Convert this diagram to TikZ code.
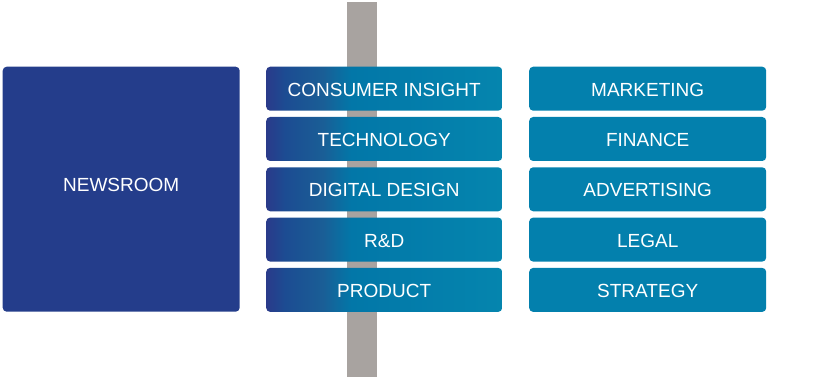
\documentclass[tikz,border=0pt]{standalone}
\usepackage{fontspec}
\setmainfont{Liberation Sans}
\definecolor{navy}{RGB}{36,61,139}
\definecolor{teal}{RGB}{3,128,173}
\definecolor{pole}{RGB}{168,163,160}
\definecolor{gA}{RGB}{42,58,138}
\definecolor{gB}{RGB}{28,76,146}
\definecolor{gC}{RGB}{26,94,150}
\definecolor{gD}{RGB}{2,119,168}
\definecolor{gE}{RGB}{5,133,174}
\pgfdeclarehorizontalshading{midshade}{100bp}{color(0bp)=(gA); color(25bp)=(gA); color(29bp)=(gB); color(37bp)=(gC); color(43bp)=(gD); color(75bp)=(gE); color(100bp)=(gE)}
\tikzset{
  box/.style={rounded corners=4pt, minimum height=44pt, inner sep=0pt, text=white, font=\fontsize{19}{22}\selectfont, anchor=north west, text height=15.3pt, text depth=0pt},
  midbox/.style={box, minimum width=236pt, shading=midshade},
  rightbox/.style={box, minimum width=237pt, fill=teal},
}
\begin{document}
\begin{tikzpicture}[x=1pt,y=-1pt]
\useasboundingbox (0,0) rectangle (828,377);
\fill[pole] (347,2) rectangle (377,377);
\node[box, fill=navy, minimum width=237pt, minimum height=245pt, text height=13.7pt, text depth=9pt] (news) at (2.5,66.5) {NEWSROOM};
\node[midbox] (m1) at (266,66.5) {CONSUMER INSIGHT};
\node[midbox] (m2) at (266,116.8) {TECHNOLOGY};
\node[midbox] (m3) at (266,167.1) {DIGITAL DESIGN};
\node[midbox] (m4) at (266,217.4) {R\&D};
\node[midbox] (m5) at (266,267.7) {PRODUCT};
\node[rightbox] (r1) at (529,66.5) {MARKETING};
\node[rightbox] (r2) at (529,116.8) {FINANCE};
\node[rightbox] (r3) at (529,167.1) {ADVERTISING};
\node[rightbox] (r4) at (529,217.4) {LEGAL};
\node[rightbox] (r5) at (529,267.7) {STRATEGY};
\end{tikzpicture}
\end{document}
